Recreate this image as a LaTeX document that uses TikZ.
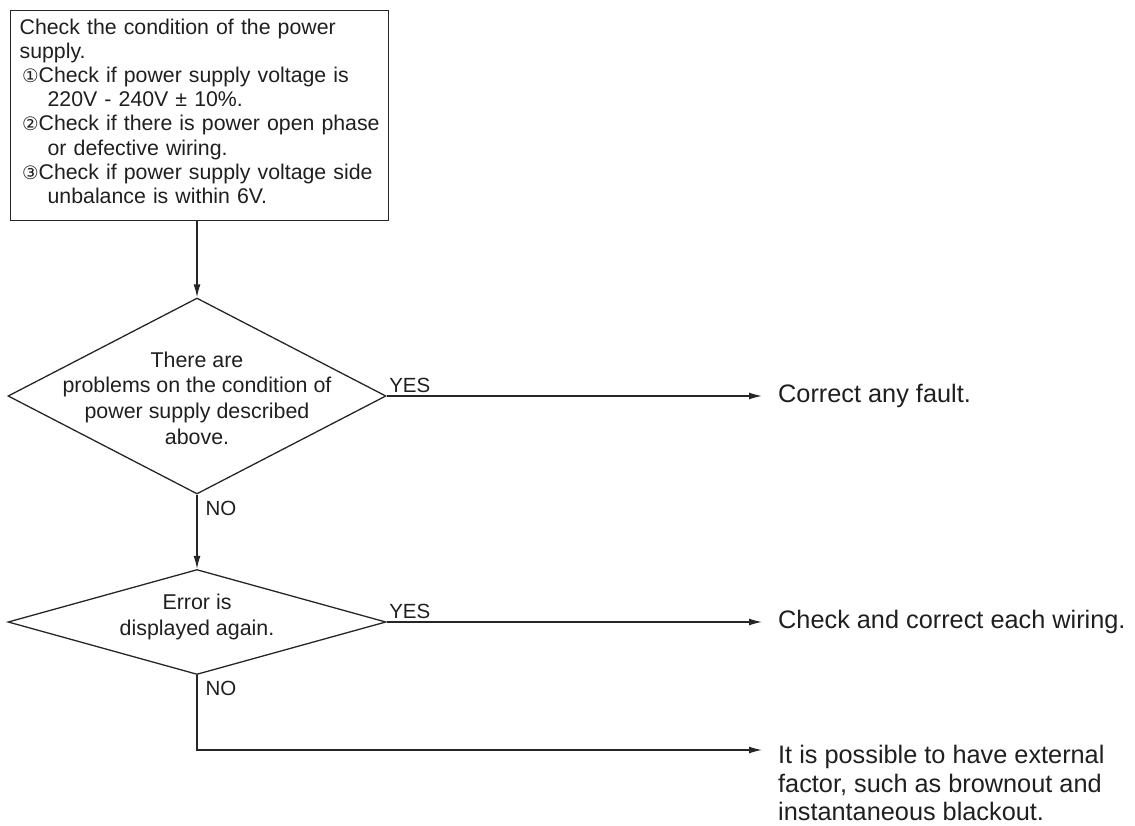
\documentclass[tikz,border=0pt]{standalone}
\usepackage{fontspec}
\setmainfont{Liberation Sans}
\newfontfamily\circfont{DejaVu Sans}
\usetikzlibrary{shapes.geometric,arrows.meta}
% circled item number followed by its text
\newcommand\circnum[1]{\makebox[19pt][l]{\hspace{2.5pt}\circfont\fontsize{18.5}{18.5}\selectfont #1}}

\begin{document}
\begin{tikzpicture}[x=1pt,y=-1pt,
  every node/.style={text=black!88},
  link/.style={line width=1.3pt, draw=black!85},
  arrowlink/.style={link,-{Latex[length=13pt,width=7pt]}},
  stepbox/.style={draw=black!85, line width=1.3pt, anchor=north west,
    text width=360pt, inner xsep=9pt, inner ysep=0pt, minimum height=210pt,
    align=left, font=\fontsize{21.3}{24.2}\selectfont},
  decision/.style={diamond, draw=black!85, line width=1.3pt, inner sep=0pt,
    minimum width=378pt},
  dtext/.style={align=center, font=\fontsize{21.4}{25.7}\selectfont},
  outcome/.style={anchor=west, inner sep=0pt, align=left,
    font=\fontsize{25.3}{28.5}\selectfont},
  answer/.style={inner sep=0pt, font=\fontsize{20.5}{20.5}\selectfont}
]
\useasboundingbox (0,0) rectangle (1135,825);

% power supply check
\node[stepbox] (check) at (10,10) {Check the condition of the power\\
supply.\\
\circnum{①}Check if power supply voltage is\\
\hspace*{28pt}220V - 240V ± 10\%.\\
\circnum{②}Check if there is power open phase\\
\hspace*{28pt}or defective wiring.\\
\circnum{③}Check if power supply voltage side\\
\hspace*{28pt}unbalance is within 6V.\rule[-9pt]{0pt}{9pt}};

% decisions
\node[decision, minimum height=196pt,
  label={[dtext, yshift=-2pt]center:{There are\\problems on the condition of\\power supply described\\above.}}]
  (q1) at (197,396) {};
\node[decision, minimum height=105pt,
  label={[dtext, yshift=5pt]center:{Error is\\displayed again.}}]
  (q2) at (197,622) {};

% outcomes
\node[outcome] (fault) at (778,396) {Correct any fault.};
\node[outcome] (wiring) at (778,622) {Check and correct each wiring.};
\node[outcome] (ext) at (778,783) {It is possible to have external\\factor, such as brownout and\\instantaneous blackout.};
\coordinate (tail) at (762,750);

% connectors
\draw[arrowlink] (check.south -| q1.north) -- (q1.north);
\draw[arrowlink, shorten >=16pt] (q1.east) --
  node[answer, pos=0, anchor=base west, xshift=2pt, yshift=4pt] {YES} (fault.west);
\draw[arrowlink] (q1.south) --
  node[answer, pos=0, anchor=base west, xshift=8pt, yshift=-21pt] {NO} (q2.north);
\draw[arrowlink, shorten >=16pt] (q2.east) --
  node[answer, pos=0, anchor=base west, xshift=2pt, yshift=4pt] {YES} (wiring.west);
\draw[arrowlink] (q2.south) |-
  node[answer, pos=0, anchor=base west, xshift=8pt, yshift=-20pt] {NO} (tail);
\end{tikzpicture}
\end{document}
